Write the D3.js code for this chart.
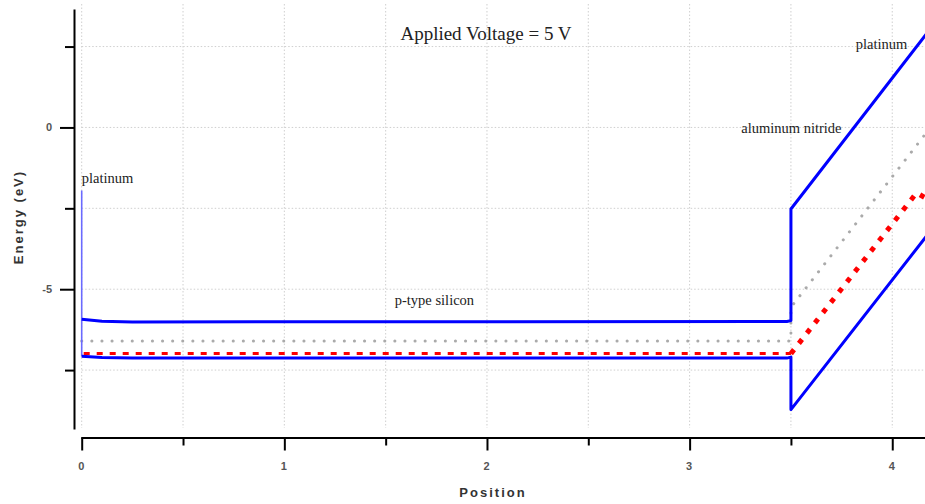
<!DOCTYPE html>
<html>
<head>
<meta charset="utf-8">
<script src="https://cdn.jsdelivr.net/npm/d3@7"></script>
<style>
html,body{margin:0;padding:0;background:#fff;}
svg{display:block;}
</style>
</head>
<body>
<svg id="chart" width="925" height="504"></svg>
<script>
// ---- data (positions in µm-like units, energies in eV) ----
const cbX = [0, 0.1, 0.25, 3.48, 3.5, 3.5, 4.17];
const cbY = [-5.93, -5.99, -6.01, -6.0, -5.97, -2.52, 2.9];
const vbX = [0, 0.1, 0.25, 3.48, 3.5, 3.5, 4.17];
const vbY = [-7.07, -7.11, -7.13, -7.13, -7.1, -8.72, -3.35];
const efX = [0, 3.5, 4.12, 4.17];
const efY = [-6.99, -6.99, -2.02, -2.2];
const eiX = [0, 3.5, 3.5, 4.17];
const eiY = [-6.6, -6.6, -5.56, -0.15];
const ptX = [0, 0];
const ptY = [-1.95, -7.08];

const xTicks = [0, 0.5, 1, 1.5, 2, 2.5, 3, 3.5, 4];
const xTickLabels = ["0", "", "1", "", "2", "", "3", "", "4"];
const yTicks = [2.5, 0, -2.5, -5, -7.5];
const yTickLabels = ["", "0", "", "-5", ""];

const titleText = "Applied Voltage = 5 V";
const annotations = [
  {text: "platinum", x: 0.0, y: -1.72, anchor: "start"},
  {text: "p-type silicon", x: 1.545, y: -5.5, anchor: "start"},
  {text: "aluminum nitride", x: 3.255, y: -0.17, anchor: "start"},
  {text: "platinum", x: 3.82, y: 2.42, anchor: "start"}
];

// ---- scales ----
const svg = d3.select("#chart");
const x = d3.scaleLinear().domain([0, 4.1616]).range([81.7, 925]);
const y = d3.scaleLinear().domain([-9.29, 3.63]).range([428, 10]);

// ---- grid ----
const grid = svg.append("g");
grid.selectAll("line.v").data(xTicks).enter().append("line")
  .attr("x1", d => x(d)).attr("x2", d => x(d))
  .attr("y1", 4).attr("y2", 428)
  .attr("stroke", "#cfcfcf").attr("stroke-width", 1).attr("stroke-dasharray", "1.5,2");
grid.selectAll("line.h").data(yTicks).enter().append("line")
  .attr("x1", x(0)).attr("x2", 925)
  .attr("y1", d => y(d)).attr("y2", d => y(d))
  .attr("stroke", "#cfcfcf").attr("stroke-width", 1).attr("stroke-dasharray", "1.5,2");

// ---- axes ----
const yAxis = svg.append("g").attr("transform", `translate(74,0)`)
  .call(d3.axisLeft(y).tickValues(yTicks).tickSizeOuter(0)
    .tickFormat((d, i) => yTickLabels[i]));
yAxis.select(".domain").attr("stroke", "#000").attr("stroke-width", 2);
yAxis.selectAll(".tick line").attr("stroke", "#000").attr("stroke-width", 2)
  .attr("x2", (d, i) => yTickLabels[i] ? -14 : -9);
yAxis.selectAll(".tick text").attr("x", -22)
  .attr("font-family", "Liberation Sans, Arial, sans-serif")
  .attr("font-size", 11).attr("font-weight", "bold").attr("fill", "#555");

const xAxis = svg.append("g").attr("transform", `translate(0,437.5)`)
  .call(d3.axisBottom(x).tickValues(xTicks).tickSizeOuter(0)
    .tickFormat((d, i) => xTickLabels[i]));
xAxis.select(".domain").attr("stroke", "#000").attr("stroke-width", 1.8);
xAxis.selectAll(".tick line").attr("stroke", "#000").attr("stroke-width", 2)
  .attr("y2", (d, i) => xTickLabels[i] ? 13 : 8);
xAxis.selectAll(".tick text").attr("y", 25).attr("dx", -1)
  .attr("font-family", "Liberation Sans, Arial, sans-serif")
  .attr("font-size", 11).attr("font-weight", "bold").attr("fill", "#555");
svg.selectAll(".domain").attr("stroke-linecap", "square");

// ---- axis titles ----
svg.append("text").attr("x", 493).attr("y", 497).attr("text-anchor", "middle")
  .attr("font-family", "Liberation Sans, Arial, sans-serif").attr("font-size", 13)
  .attr("font-weight", "bold").attr("letter-spacing", 2).attr("fill", "#333")
  .text("Position");
svg.append("text").attr("transform", "translate(23,217) rotate(-90)").attr("text-anchor", "middle")
  .attr("font-family", "Liberation Sans, Arial, sans-serif").attr("font-size", 13)
  .attr("font-weight", "bold").attr("letter-spacing", 2).attr("fill", "#333")
  .text("Energy (eV)");

// ---- lines ----
const plot = svg.append("g");
const line = d3.line().x(d => x(d[0])).y(d => y(d[1]));
const zip = (a, b) => a.map((v, i) => [v, b[i]]);

// intrinsic level (grey dotted)
plot.append("path").datum(zip(eiX, eiY)).attr("d", line)
  .attr("fill", "none").attr("stroke", "#aaaaaa").attr("stroke-width", 3)
  .attr("stroke-linecap", "round").attr("stroke-dasharray", "0.1,10");

// Fermi level (red dashed): flat part and sloped part drawn with the same data
const ef = zip(efX, efY);
plot.append("path").datum(ef.slice(0, 2)).attr("d", line)
  .attr("fill", "none").attr("stroke", "#ff0000").attr("stroke-width", 3)
  .attr("stroke-dasharray", "6,7").attr("stroke-dashoffset", -2);
plot.append("path").datum(ef.slice(1)).attr("d", line)
  .attr("fill", "none").attr("stroke", "#ff0000").attr("stroke-width", 5)
  .attr("stroke-dasharray", "5,8");

// platinum spike
plot.append("path").datum(zip(ptX, ptY)).attr("d", line)
  .attr("fill", "none").attr("stroke", "#6a6aff").attr("stroke-width", 1.6);

// band edges (blue)
[zip(cbX, cbY), zip(vbX, vbY)].forEach(pts => {
  plot.append("path").datum(pts).attr("d", line)
    .attr("fill", "none").attr("stroke", "#0000ff").attr("stroke-width", 3)
    .attr("stroke-linejoin", "round");
});

// ---- texts ----
svg.append("text").attr("x", 486).attr("y", 40).attr("text-anchor", "middle")
  .attr("font-family", "Liberation Serif, Times New Roman, serif").attr("font-size", 19)
  .attr("fill", "#222").text(titleText);
svg.selectAll("text.ann").data(annotations).enter().append("text")
  .attr("class", "ann")
  .attr("x", d => x(d.x)).attr("y", d => y(d.y)).attr("text-anchor", d => d.anchor)
  .attr("font-family", "Liberation Serif, Times New Roman, serif").attr("font-size", 14.5)
  .attr("fill", "#222").text(d => d.text);
</script>
</body>
</html>
